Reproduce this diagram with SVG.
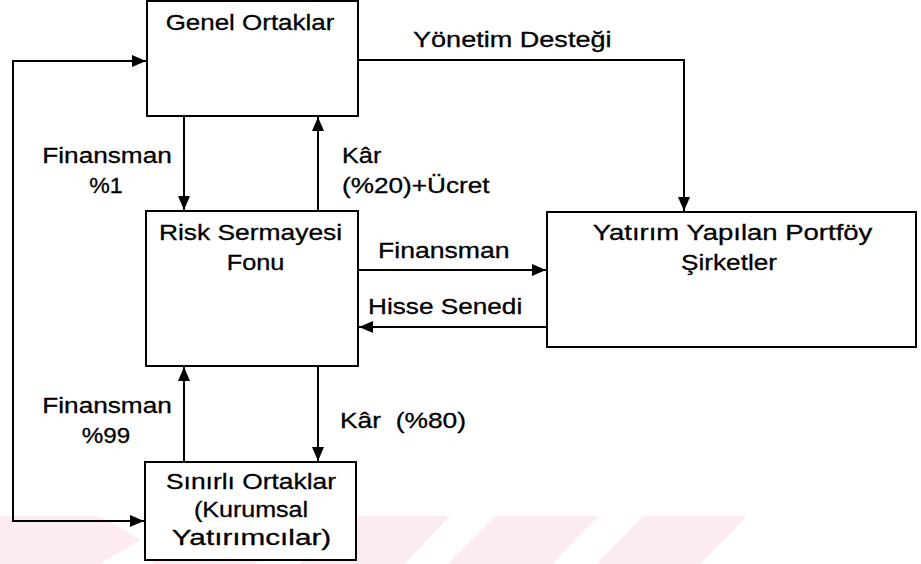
<svg xmlns="http://www.w3.org/2000/svg" width="921" height="564" viewBox="0 0 921 564">
<style>
.box{fill:#fff;stroke:#000;stroke-width:2}
.ln{fill:none;stroke:#000;stroke-width:2}
.t{font-family:"Liberation Sans",Arial,sans-serif;font-size:22px;fill:#000;stroke:#000;stroke-width:0.3}
.m{text-anchor:middle}
.wm{fill:#fcecef}
</style>
<defs>
<marker id="ah" markerUnits="userSpaceOnUse" markerWidth="14" markerHeight="12" refX="14" refY="6" orient="auto-start-reverse">
<path d="M0,0 L14,6 L0,12 z" fill="#000"/>
</marker>
</defs>
<rect width="921" height="564" fill="#fff"/>
<g id="watermark">
<polygon class="wm" points="0,516 100,516 140,540 100,564 0,564"/>
<polygon class="wm" points="199,516 302,516 255,564 152,564"/>
<polygon class="wm" points="347,516 450,516 404,564 300,564"/>
<polygon class="wm" points="495,516 598,516 552,564 448,564"/>
<polygon class="wm" points="643,516 747,516 700,564 597,564"/>
</g>
<g id="connectors">
<path class="ln" d="M144,521 H13 V61 H146" marker-start="url(#ah)" marker-end="url(#ah)"/>
<path class="ln" d="M358,60 H684 V211" marker-end="url(#ah)"/>
<path class="ln" d="M184,116 V210" marker-end="url(#ah)"/>
<path class="ln" d="M318,211 V117" marker-end="url(#ah)"/>
<path class="ln" d="M358,270 H546" marker-end="url(#ah)"/>
<path class="ln" d="M547,327 H359" marker-end="url(#ah)"/>
<path class="ln" d="M184,462 V367" marker-end="url(#ah)"/>
<path class="ln" d="M318,366 V461" marker-end="url(#ah)"/>
<text class="t" font-size="22" transform="translate(413,47) scale(1.23,1)">Yönetim Desteği</text>
<text class="t m" font-size="22" transform="translate(107,163) scale(1.19,1)">Finansman</text>
<text class="t m" font-size="22" transform="translate(106,193) scale(1.05,1)">%1</text>
<text class="t" font-size="22" transform="translate(342,163) scale(1.15,1)">Kâr</text>
<text class="t" font-size="22" transform="translate(342,193) scale(1.19,1)">(%20)+Ücret</text>
<text class="t" font-size="22" transform="translate(378,258) scale(1.21,1)">Finansman</text>
<text class="t" font-size="22" transform="translate(368,314) scale(1.19,1)">Hisse Senedi</text>
<text class="t m" font-size="22" transform="translate(107,413) scale(1.19,1)">Finansman</text>
<text class="t m" font-size="22" transform="translate(106,443) scale(1.1,1)">%99</text>
<text class="t" font-size="22" transform="translate(340,428) scale(1.2,1)">Kâr&#160; (%80)</text>
</g>
<g id="genel">
<rect class="box" x="147" y="1" width="211" height="115"/>
<text class="t m" font-size="22" transform="translate(250,30) scale(1.18,1)">Genel Ortaklar</text>
</g>
<g id="risk">
<rect class="box" x="146" y="211" width="212" height="155"/>
<text class="t m" font-size="22" transform="translate(250.5,240) scale(1.2,1)">Risk Sermayesi</text>
<text class="t m" font-size="22" transform="translate(255.5,270) scale(1.15,1)">Fonu</text>
</g>
<g id="yatirim">
<rect class="box" x="547" y="212" width="369" height="135"/>
<text class="t m" font-size="22" transform="translate(732.5,240) scale(1.25,1)">Yatırım Yapılan Portföy</text>
<text class="t m" font-size="22" transform="translate(729,270) scale(1.19,1)">Şirketler</text>
</g>
<g id="sinirli">
<rect class="box" x="145" y="462" width="211" height="98"/>
<text class="t m" font-size="22" transform="translate(251,489) scale(1.2,1)">Sınırlı Ortaklar</text>
<text class="t m" font-size="22" transform="translate(251,517) scale(1.14,1)">(Kurumsal</text>
<text class="t m" font-size="22" transform="translate(251.5,545) scale(1.35,1)">Yatırımcılar)</text>
</g>
</svg>
